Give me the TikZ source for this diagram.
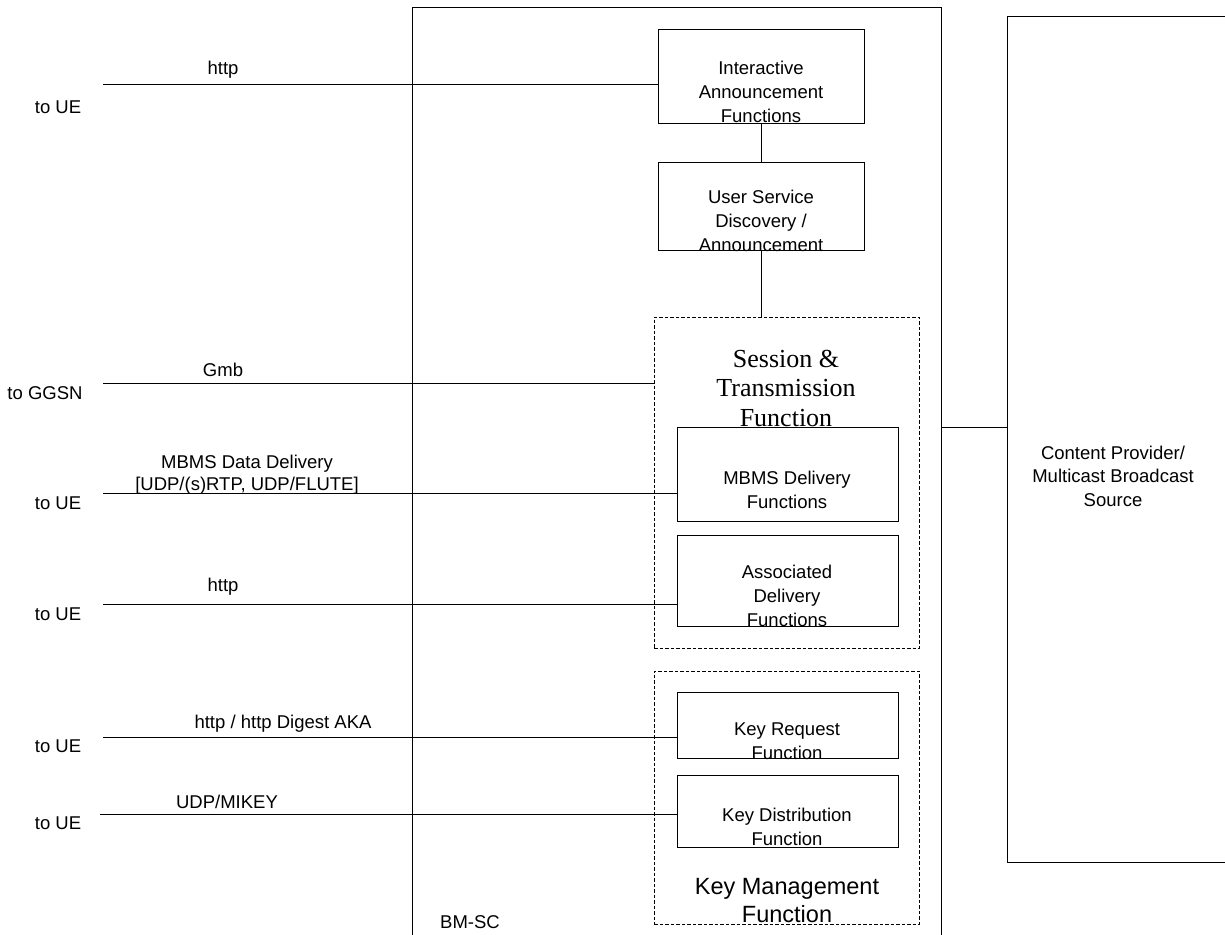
\documentclass[tikz,border=0pt]{standalone}
\usepackage{fontspec}
\setmainfont{Liberation Sans}
\newfontfamily\timesfont{Liberation Serif}
\begin{document}
\begin{tikzpicture}
		[x=1pt,y=-1pt,
		FuncBox/.style={draw,line width=0.8pt,rectangle,inner sep=0pt},
		GroupBox/.style={draw,line width=0.8pt,dash pattern=on 3.5pt off 2pt,rectangle,inner sep=0pt},
		Txt/.style={inner sep=0pt,align=center,font=\fontsize{18.5}{24}\selectfont},
		Link/.style={line width=0.8pt}]

		\useasboundingbox (0,0) rectangle (1225,934);

		% BM-SC 外框 (下边在图外)
		\node[FuncBox,anchor=north west,minimum width=529,minimum height=960] (bmsc) at (412,7) {};
		\node[Txt] (bmsc_t) at (470,922) {BM-SC};

		% Content Provider 外框 (右边在图外)
		\node[FuncBox,anchor=north west,minimum width=240,minimum height=846] (cp) at (1007,16) {};
		\node[Txt,font=\fontsize{18.5}{23.5}\selectfont] (cp_t) at (1113,476) {Content Provider/\\Multicast Broadcast\\Source};

		% 上面两个功能块
		\node[FuncBox,minimum width=206,minimum height=94] (ia) at (761,76) {};
		\node[Txt] (ia_t) at (761,92) {Interactive\\Announcement\\Functions};
		\node[FuncBox,minimum width=206,minimum height=88] (us) at (761,206) {};
		\node[Txt] (us_t) at (761,221) {User Service\\Discovery /\\Announcement};

		% Session & Transmission 虚线框
		\node[GroupBox,minimum width=265,minimum height=331] (st) at (786.5,482.5) {};
		\node[Txt,font=\timesfont\fontsize{26}{29.5}\selectfont] (st_t) at (786,388) {Session \&\\Transmission\\Function};
		\node[FuncBox,minimum width=221,minimum height=94] (mbms) at (787.5,474) {};
		\node[Txt] (mbms_t) at (787,490) {MBMS Delivery\\Functions};
		\node[FuncBox,minimum width=221,minimum height=91] (adf) at (787.5,580.5) {};
		\node[Txt] (adf_t) at (787,596) {Associated\\Delivery\\Functions};

		% Key Management 虚线框
		\node[GroupBox,minimum width=265,minimum height=253] (km) at (786.5,797.5) {};
		\node[Txt,font=\fontsize{23.5}{28}\selectfont] (km_t) at (787,901) {Key Management\\Function};
		\node[FuncBox,minimum width=221,minimum height=66] (krf) at (787.5,725) {};
		\node[Txt] (krf_t) at (787,741) {Key Request\\Function};
		\node[FuncBox,minimum width=221,minimum height=72] (kdf) at (787.5,811) {};
		\node[Txt] (kdf_t) at (787,827) {Key Distribution\\Function};

		% 内部连线
		\draw[Link] (ia) -- (us);
		\draw[Link] (us.south) -- (us.south |- st.north);
		\coordinate (cp_in) at (1007,427);
		\draw[Link] (cp_in -| bmsc.east) -- (cp_in);

		% 左边的接口连线
		\foreach \x/\y/\n/\t in {103/84/1/ia, 103/383/2/st, 103/493/3/mbms, 103/604/4/adf, 103/737/5/krf, 100/814/6/kdf}
		{
			\coordinate (ue_\n) at (\x,\y);
			\draw[Link] (ue_\n) -- (ue_\n -| \t.west);
		}

		% 协议名称
		\node[Txt] (p_1) at (223,70) {http};
		\node[Txt] (p_2) at (223,370) {Gmb};
		\node[Txt,font=\fontsize{18.5}{22}\selectfont] (p_3) at (247,475) {MBMS Data Delivery\\{[}UDP/(s)RTP, UDP/FLUTE{]}};
		\node[Txt] (p_4) at (223,587) {http};
		\node[Txt] (p_5) at (283,724) {http / http Digest AKA};
		\node[Txt] (p_6) at (227,802) {UDP/MIKEY};

		% 接口另一端
		\node[Txt] (d_1) at (58,107) {to UE};
		\node[Txt] (d_2) at (45,393) {to GGSN};
		\node[Txt] (d_3) at (58,503) {to UE};
		\node[Txt] (d_4) at (58,614) {to UE};
		\node[Txt] (d_5) at (58,746) {to UE};
		\node[Txt] (d_6) at (58,823) {to UE};

	\end{tikzpicture}
\end{document}
